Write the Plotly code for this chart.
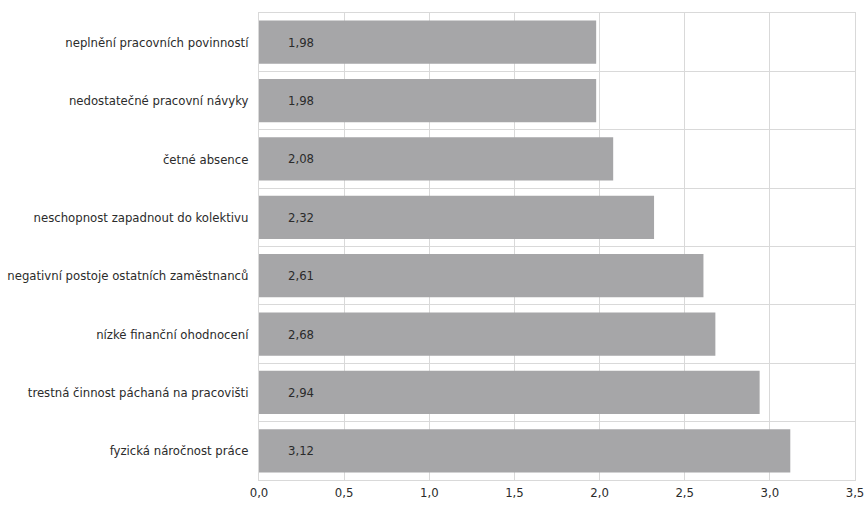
import plotly.graph_objects as go

categories = [
    "neplnění pracovních povinností",
    "nedostatečné pracovní návyky",
    "četné absence",
    "neschopnost zapadnout do kolektivu",
    "negativní postoje ostatních zaměstnanců",
    "nízké finanční ohodnocení",
    "trestná činnost páchaná na pracovišti",
    "fyzická náročnost práce",
]
values = [1.98, 1.98, 2.08, 2.32, 2.61, 2.68, 2.94, 3.12]
x_ticks = [0, 0.5, 1.0, 1.5, 2.0, 2.5, 3.0, 3.5]
x_tick_labels = ["0,0", "0,5", "1,0", "1,5", "2,0", "2,5", "3,0", "3,5"]

FONT = "DejaVu Sans Condensed, DejaVu Sans, sans-serif"
TXT = "#2b2b2b"
pos = list(range(len(categories)))

def fnt(size):
    return dict(family=FONT, size=size, color=TXT)

fig = go.Figure()
fig.add_trace(go.Bar(
    x=values, y=pos, orientation="h",
    marker=dict(color="#a6a6a8", line=dict(width=0)),
    width=0.74,
    hoverinfo="x+y",
))

for p, v in zip(pos, values):
    fig.add_annotation(
        x=0, y=p, xref="x", yref="y",
        text=f"{v:.2f}".replace(".", ","),
        showarrow=False, xanchor="left", xshift=27,
        font=fnt(13),
    )

fig.update_layout(
    width=867, height=510,
    margin=dict(l=259, r=12, t=13, b=30),
    paper_bgcolor="white", plot_bgcolor="white",
    showlegend=False,
    font=fnt(13),
    xaxis=dict(
        range=[0, 3.5], tickvals=x_ticks, ticktext=x_tick_labels,
        showgrid=True, gridcolor="#d9d9d9", gridwidth=1,
        zeroline=False, showline=True, linecolor="#d9d9d9", linewidth=1,
        mirror=True, ticks="", ticklen=0, automargin=False,
        tickfont=fnt(13),
    ),
    yaxis=dict(
        range=[len(categories) - 0.5, -0.5],
        tickvals=pos, ticktext=categories,
        showgrid=False, zeroline=False,
        showline=True, linecolor="#d9d9d9", linewidth=1, mirror=True,
        ticks="", ticklabelstandoff=7, automargin=False,
        tickfont=fnt(13),
        minor=dict(tickmode="linear", tick0=0.5, dtick=1,
                   showgrid=True, gridcolor="#d9d9d9", gridwidth=1, ticks=""),
    ),
)

fig.write_html(
    "out.html",
    config={"displayModeBar": False},
    post_script="document.body.style.margin='0';document.body.style.overflow='hidden';",
)
